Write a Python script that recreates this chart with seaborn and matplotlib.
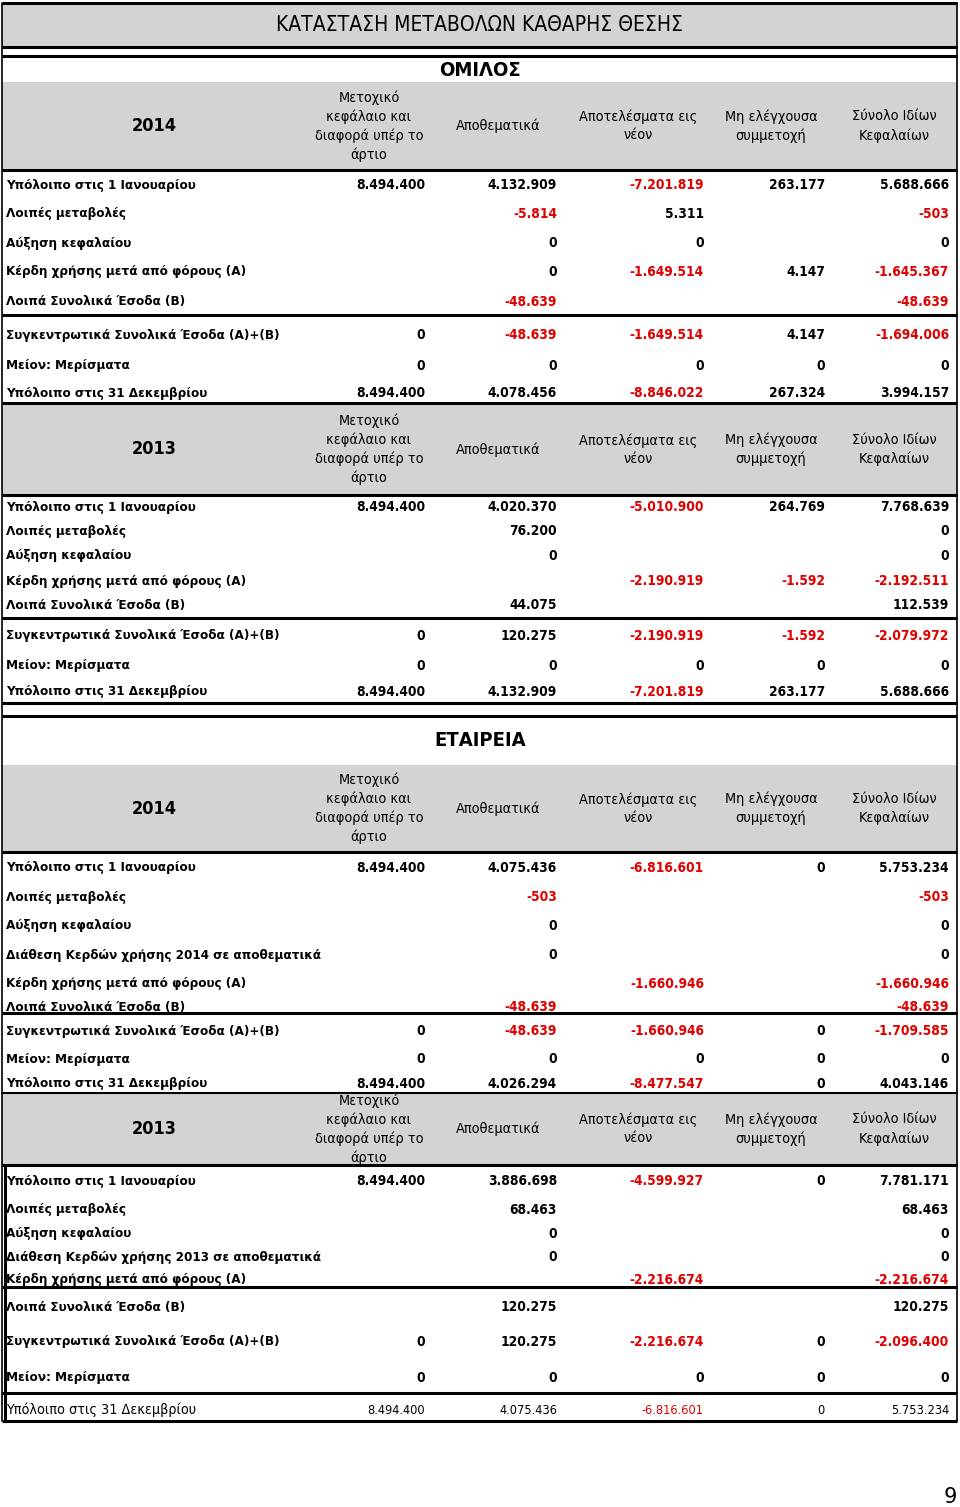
import matplotlib
matplotlib.use('Agg')
import matplotlib.pyplot as plt
import seaborn as sns
from matplotlib import font_manager

# ---- data ----
title = 'ΚΑΤΑΣΤΑΣΗ ΜΕΤΑΒΟΛΩΝ ΚΑΘΑΡΗΣ ΘΕΣΗΣ'
col_headers = ['Μετοχικό\nκεφάλαιο και\nδιαφορά υπέρ το\nάρτιο', 'Αποθεματικά',
               'Αποτελέσματα εις\nνέον', 'Μη ελέγχουσα\nσυμμετοχή', 'Σύνολο Ιδίων\nΚεφαλαίων']

g14_labels = ['Υπόλοιπο στις 1 Ιανουαρίου', 'Λοιπές μεταβολές', 'Αύξηση κεφαλαίου',
              'Κέρδη χρήσης μετά από φόρους (Α)', 'Λοιπά Συνολικά Έσοδα (Β)',
              'Συγκεντρωτικά Συνολικά Έσοδα (Α)+(Β)', 'Μείον: Μερίσματα',
              'Υπόλοιπο στις 31 Δεκεμβρίου']
g14_values = [
    [8494400, 4132909, -7201819, 263177, 5688666],
    [None, -5814, 5311, None, -503],
    [None, 0, 0, None, 0],
    [None, 0, -1649514, 4147, -1645367],
    [None, -48639, None, None, -48639],
    [0, -48639, -1649514, 4147, -1694006],
    [0, 0, 0, 0, 0],
    [8494400, 4078456, -8846022, 267324, 3994157],
]

g13_labels = g14_labels
g13_values = [
    [8494400, 4020370, -5010900, 264769, 7768639],
    [None, 76200, None, None, 0],
    [None, 0, None, None, 0],
    [None, None, -2190919, -1592, -2192511],
    [None, 44075, None, None, 112539],
    [0, 120275, -2190919, -1592, -2079972],
    [0, 0, 0, 0, 0],
    [8494400, 4132909, -7201819, 263177, 5688666],
]

c14_labels = ['Υπόλοιπο στις 1 Ιανουαρίου', 'Λοιπές μεταβολές', 'Αύξηση κεφαλαίου',
              'Διάθεση Κερδών χρήσης 2014 σε αποθεματικά',
              'Κέρδη χρήσης μετά από φόρους (Α)', 'Λοιπά Συνολικά Έσοδα (Β)',
              'Συγκεντρωτικά Συνολικά Έσοδα (Α)+(Β)', 'Μείον: Μερίσματα',
              'Υπόλοιπο στις 31 Δεκεμβρίου']
c14_values = [
    [8494400, 4075436, -6816601, 0, 5753234],
    [None, -503, None, None, -503],
    [None, 0, None, None, 0],
    [None, 0, None, None, 0],
    [None, None, -1660946, None, -1660946],
    [None, -48639, None, None, -48639],
    [0, -48639, -1660946, 0, -1709585],
    [0, 0, 0, 0, 0],
    [8494400, 4026294, -8477547, 0, 4043146],
]

c13_labels = [l.replace('2014', '2013') for l in c14_labels]
c13_values = [
    [8494400, 3886698, -4599927, 0, 7781171],
    [None, 68463, None, None, 68463],
    [None, 0, None, None, 0],
    [None, 0, None, None, 0],
    [None, None, -2216674, None, -2216674],
    [None, 120275, None, None, 120275],
    [0, 120275, -2216674, 0, -2096400],
    [0, 0, 0, 0, 0],
    [8494400, 4075436, -6816601, 0, 5753234],
]

# ---- layout (pixels) ----
col_right = [425, 557, 704, 825, 949]
col_center = [369, 498, 638, 771, 894]
blocks = [
    ('2014', g14_labels, g14_values, (82, 170), [185, 214, 243, 272, 302, 335, 366, 393]),
    ('2013', g13_labels, g13_values, (405, 494), [507, 531, 556, 581, 605, 636, 666, 692]),
    ('2014', c14_labels, c14_values, (765, 852), [868, 897, 926, 955, 984, 1007, 1031, 1059, 1084]),
    ('2013', c13_labels, c13_values, (1093, 1165), [1181, 1210, 1234, 1257, 1280, 1307, 1342, 1378, 1410]),
]
thick_lines = [3, 47, 56, 170, 315, 403, 495, 618, 703, 716, 852, 1013, 1165, 1287, 1393, 1421]
gray = '#d3d3d3'
red = '#e00000'

sns.set_theme(style='white')
avail = {f.name for f in font_manager.fontManager.ttflist}
if 'Liberation Sans Narrow' in avail:
    plt.rcParams['font.family'] = ['Liberation Sans Narrow', 'DejaVu Sans']
    stretch = 'normal'
else:
    plt.rcParams['font.family'] = ['DejaVu Sans']
    stretch = 'condensed'
plt.rcParams['text.color'] = 'black'

fig = plt.figure(figsize=(9.6, 15.07), dpi=100)
ax = fig.add_axes([0, 0, 1, 1])
ax.set_xlim(0, 960)
ax.set_ylim(1507, 0)
ax.axis('off')


def fmt(v):
    return f'{v:,}'.replace(',', '.')


# title band
ax.axhspan(3, 47, xmin=2 / 960, xmax=957 / 960, color=gray, lw=0)
ax.text(480, 25, title, ha='center', va='center', fontsize=15, fontstretch=stretch)
ax.text(480, 70, 'ΟΜΙΛΟΣ', ha='center', va='center', fontsize=14.5, fontweight='bold', fontstretch=stretch)
ax.text(480, 741, 'ΕΤΑΙΡΕΙΑ', ha='center', va='center', fontsize=14.5, fontweight='bold', fontstretch=stretch)

for bi, (year, labels, values, (h0, h1), rows_y) in enumerate(blocks):
    ax.axhspan(h0, h1, xmin=2 / 960, xmax=957 / 960, color=gray, lw=0)
    hc = (h0 + h1) / 2
    ax.text(154, hc, year, ha='center', va='center', fontsize=13, fontweight='bold', fontstretch=stretch)
    for cx, hd in zip(col_center, col_headers):
        ax.text(cx, hc, hd, ha='center', va='center', fontsize=10.4, linespacing=1.4,
                fontstretch=stretch)
    for ri, (lab, vals, y) in enumerate(zip(labels, values, rows_y)):
        plain = (bi == 3 and ri == len(labels) - 1)
        w = 'normal' if plain else 'bold'
        ax.text(6, y, lab, ha='left', va='center', fontsize=10.3 if plain else 9.6,
                fontweight=w, fontstretch=stretch)
        for x, v in zip(col_right, vals):
            if v is None:
                continue
            ax.text(x, y, fmt(v), ha='right', va='center', fontsize=9.2 if plain else 9.8,
                    fontweight=w, color=red if v < 0 else 'black', fontstretch=stretch)

# rules
for y in thick_lines:
    ax.plot([2, 957], [y, y], color='black', lw=2.2, solid_capstyle='butt')
ax.plot([2, 957], [1093, 1093], color='black', lw=1.5)
ax.plot([2, 2], [3, 1421], color='black', lw=1.2)
ax.plot([957, 957], [3, 1421], color='black', lw=1.2)
ax.plot([5, 5], [1165, 1421], color='black', lw=2.2)

ax.text(950, 1497, '9', ha='center', va='center', fontsize=15, family='DejaVu Sans')

fig.savefig('out.png', dpi=100)
